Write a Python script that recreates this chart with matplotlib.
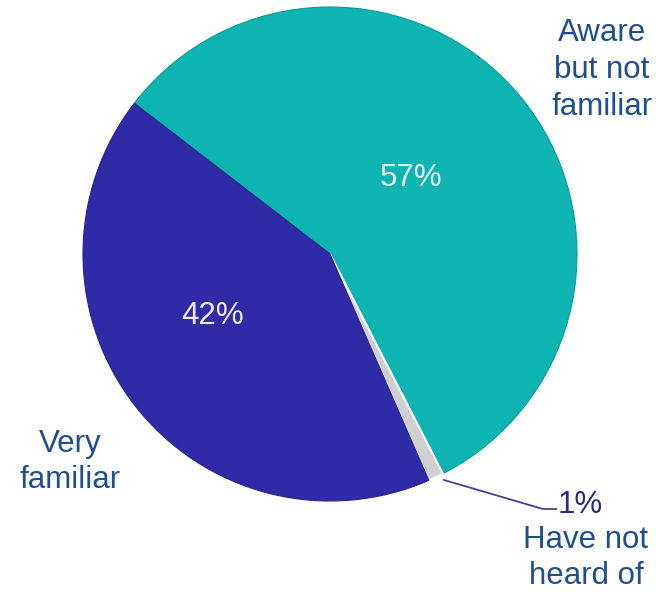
import matplotlib.pyplot as plt

# Awareness breakdown (percent of respondents)
categories = ['Aware\nbut not\nfamiliar', 'Have not\nheard of', 'Very\nfamiliar']
shares = [57, 1, 42]
colors = ['#0db4b2', '#cfcfcf', '#2f2aa6']

plt.rcParams['font.family'] = ['Liberation Sans', 'DejaVu Sans']

fig = plt.figure(figsize=(6.56, 5.92), dpi=100)
ax = fig.add_axes([0, 0, 1, 1])

cx, cy, r = 330, 338, 247
wedges, _ = ax.pie(shares, colors=colors, startangle=142.4, counterclock=False,
                   center=(cx, cy), radius=r, frame=True,
                   wedgeprops=dict(edgecolor='#e8e8e8', linewidth=0.8))
wedges[0].set_edgecolor('#0a9a98')
wedges[2].set_edgecolor('#27238f')
wedges[1].set_edgecolor('white')
wedges[1].set_linewidth(1.5)
ax.set_xlim(0, 656)
ax.set_ylim(0, 592)
ax.set_aspect('equal')
ax.axis('off')

fs = 22.5
ls = 1.3
label_col = '#1f4e8c'

# percentages inside the big slices
ax.text(411, 592 - 178, f'{shares[0]}%', ha='center', va='center', fontsize=fs, color='#e6f4f4')
ax.text(213, 592 - 316, f'{shares[2]}%', ha='center', va='center', fontsize=fs, color='#ecebf8')

# category labels
ax.text(602, 592 - 70, categories[0], ha='center', va='center', fontsize=fs,
        color=label_col, linespacing=ls)
ax.text(70, 592 - 462, categories[2], ha='center', va='center', fontsize=fs,
        color=label_col, linespacing=ls)

# small slice: leader line to its value and name
ax.plot([444, 543, 556], [592 - 480, 592 - 509, 592 - 509], color='#4a3f9c', lw=1.3)
ax.text(580, 592 - 505, f'{shares[1]}%', ha='center', va='center', fontsize=fs, color='#2d2a7c')
ax.text(586, 592 - 558, categories[1], ha='center', va='center', fontsize=fs,
        color=label_col, linespacing=ls)

fig.savefig('out.png', dpi=100)
